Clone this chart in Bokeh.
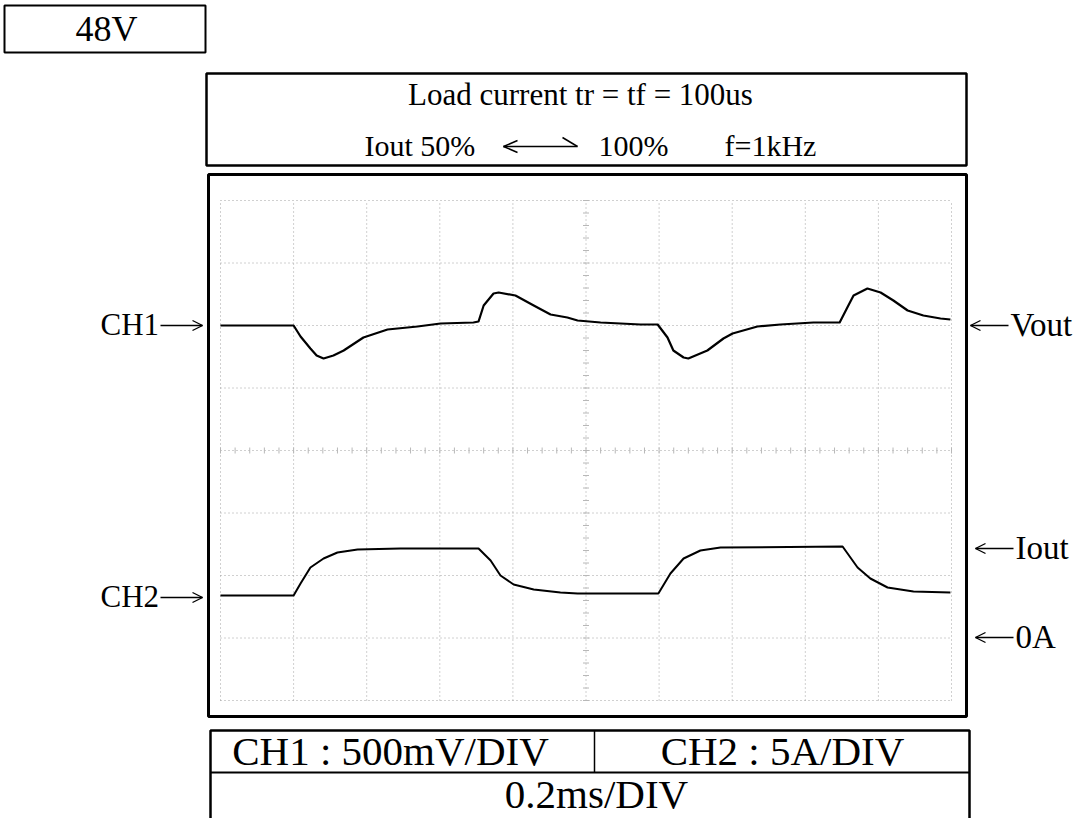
from bokeh.plotting import figure
from bokeh.models import Range1d
from bokeh.embed import file_html
from bokeh.resources import INLINE
from bokeh.core.properties import value

# ---------------- data read from the oscilloscope capture ----------------
# CH1 : Vout deviation (mV) around its reference marker
ch1_time_ms = [0.000, 0.082, 0.200, 0.219, 0.246, 0.263, 0.282, 0.309, 0.337, 0.391,
               0.457, 0.539, 0.602, 0.692, 0.706, 0.720, 0.747, 0.761, 0.807, 0.857,
               0.903, 0.949, 0.977, 1.040, 1.149, 1.196, 1.223, 1.239, 1.267, 1.280,
               1.332, 1.376, 1.401, 1.469, 1.532, 1.622, 1.694, 1.715, 1.732, 1.770,
               1.806, 1.841, 1.880, 1.923, 1.970, 1.997]
ch1_vout_mv = [0, 0, 0, -88, -184, -240, -264, -240, -200, -96,
               -32, -8, 16, 24, 32, 160, 256, 264, 240, 160,
               88, 64, 40, 24, 8, 8, -96, -200, -256, -264,
               -200, -104, -64, -8, 8, 24, 24, 144, 240, 296,
               264, 200, 120, 80, 56, 48]

# CH2 : Iout (A)
ch2_time_ms = [0.000, 0.200, 0.219, 0.246, 0.282, 0.320, 0.375, 0.492, 0.706, 0.739,
               0.766, 0.802, 0.857, 0.930, 0.977, 1.198, 1.231, 1.267, 1.313, 1.368,
               1.702, 1.743, 1.778, 1.825, 1.896, 1.997]
ch2_iout_a = [3.40, 3.40, 4.36, 5.64, 6.36, 6.84, 7.08, 7.16, 7.16, 6.20,
              5.00, 4.28, 3.88, 3.64, 3.56, 3.56, 5.16, 6.36, 7.00, 7.24,
              7.32, 5.64, 4.76, 4.04, 3.72, 3.64]

# scope settings
ms_per_div = 0.2
mv_per_div = 500
a_per_div = 5
n_div_x = 10
n_div_y = 8
ch1_ref_div = 6      # CH1 marker sits on graticule line 6 (from bottom)
ch2_zero_div = 1     # 0 A sits on graticule line 1

# texts
supply_label = "48V"
title_line1 = "Load current tr = tf = 100us"
title_parts = ["Iout 50%", "100%", "f=1kHz"]
left_labels = ["CH1", "CH2"]
right_labels = ["Vout", "Iout", "0A"]
table_labels = ["CH1 : 500mV/DIV", "CH2 : 5A/DIV", "0.2ms/DIV"]

# ---------------- layout (page pixels of the capture) ----------------
W, H = 1092, 818
X0, X1, Y0, Y1 = 0, W, 0, H
GL, GR, GT, GB = 220, 951, 200, 700
pdx = (GR - GL) / n_div_x
pdy = (GB - GT) / n_div_y


def t_at(px):
    return (px - GL) / pdx * ms_per_div


def mv_at(py):
    return ((GB - py) / pdy - ch1_ref_div) * mv_per_div


def a_at(py):
    return ((GB - py) / pdy - ch2_zero_div) * a_per_div


p = figure(width=W, height=H, output_backend="svg", toolbar_location=None,
           x_range=Range1d(t_at(X0), t_at(X1)), y_range=Range1d(mv_at(Y1), mv_at(Y0)),
           x_axis_type=None, y_axis_type=None, min_border=0)
p.extra_x_ranges = {"px": Range1d(X0, X1)}
p.extra_y_ranges = {"px": Range1d(Y1, Y0), "amp": Range1d(a_at(Y1), a_at(Y0))}
p.outline_line_color = None
p.grid.visible = False
p.background_fill_color = "white"
p.border_fill_color = "white"

PX = dict(x_range_name="px", y_range_name="px")
FONT = value("Liberation Serif")

# ---------------- graticule ----------------
t_max = n_div_x * ms_per_div
mv_lo = (0 - ch1_ref_div) * mv_per_div
mv_hi = (n_div_y - ch1_ref_div) * mv_per_div
vx = [i * ms_per_div for i in range(n_div_x + 1)]
hy = [mv_lo + j * mv_per_div for j in range(n_div_y + 1)]
grid_style = dict(line_color="#a0a0a0", line_width=1, line_dash="1 3")
p.segment(x0=vx, y0=[mv_lo] * len(vx), x1=vx, y1=[mv_hi] * len(vx), **grid_style)
p.segment(x0=[0] * len(hy), y0=hy, x1=[t_max] * len(hy), y1=hy, **grid_style)

# minor ticks on centre lines
t_c = t_max / 2
mv_c = (n_div_y / 2 - ch1_ref_div) * mv_per_div
tick_v = [mv_lo + k * mv_per_div / 5 for k in range(n_div_y * 5 + 1)]
tick_t = [k * ms_per_div / 5 for k in range(n_div_x * 5 + 1)]
dt = 3 / pdx * ms_per_div
dmv = 3 / pdy * mv_per_div
p.segment(x0=[t_c - dt] * len(tick_v), y0=tick_v, x1=[t_c + dt] * len(tick_v), y1=tick_v,
          line_color="#b8b8b8", line_width=1)
p.segment(x0=tick_t, y0=[mv_c - dmv] * len(tick_t), x1=tick_t, y1=[mv_c + dmv] * len(tick_t),
          line_color="#b8b8b8", line_width=1)

# ---------------- traces ----------------
p.line(ch1_time_ms, ch1_vout_mv, line_color="black", line_width=2.2, line_join="round")
p.line(ch2_time_ms, ch2_iout_a, line_color="black", line_width=2.0, line_join="round",
       y_range_name="amp")

# ---------------- frames ----------------
box = dict(fill_color=None, line_color="black", **PX)
p.quad(left=[4], right=[205], top=[5], bottom=[52], line_width=2, **box)
p.quad(left=[206], right=[966], top=[73], bottom=[165], line_width=2.5, **box)
p.quad(left=[208], right=[966], top=[174], bottom=[716], line_width=3, **box)
p.quad(left=[210], right=[969], top=[730], bottom=[840], line_width=2.5, **box)
p.segment(x0=[210], y0=[772], x1=[969], y1=[772], line_color="black", line_width=2, **PX)
p.segment(x0=[594], y0=[730], x1=[594], y1=[772], line_color="black", line_width=1.5, **PX)

# ---------------- texts ----------------
K_BASE = 0.36  # empirical shift of the svg text baseline, in em


def txt(x, base_y, s, size, align="left"):
    p.text(x=[x], y=[base_y - K_BASE * size], text=[s], text_font=FONT,
           text_font_size=f"{size}px", text_align=align, text_baseline="alphabetic",
           text_color="black", **PX)


txt(106, 41, supply_label, 36, "center")
txt(580, 105, title_line1, 31, "center")
txt(364, 156, title_parts[0], 30)
txt(598, 156, title_parts[1], 30)
txt(724, 156, title_parts[2], 30)

# double-headed arrow in the title
p.segment(x0=[503], y0=[146], x1=[577], y1=[146], line_color="black", line_width=1.5, **PX)
p.segment(x0=[503, 503], y0=[146, 146], x1=[517, 517], y1=[140, 152], line_color="black",
          line_width=1.5, **PX)
p.segment(x0=[577], y0=[146], x1=[562], y1=[137], line_color="black", line_width=1.5, **PX)

# channel markers (left)
txt(100, 335, left_labels[0], 31)
txt(100, 607, left_labels[1], 31)
for yy in (325, 597):
    p.segment(x0=[160], y0=[yy], x1=[202], y1=[yy], line_color="black", line_width=1.3, **PX)
    p.segment(x0=[202, 202], y0=[yy, yy], x1=[192, 192], y1=[yy - 5, yy + 5],
              line_color="black", line_width=1.3, **PX)

# markers (right)
for (xa, yy, s) in [(970, 325, right_labels[0]), (975, 548, right_labels[1]),
                    (975, 637, right_labels[2])]:
    p.segment(x0=[xa], y0=[yy], x1=[xa + 38], y1=[yy], line_color="black", line_width=1.3, **PX)
    p.segment(x0=[xa, xa], y0=[yy, yy], x1=[xa + 10, xa + 10], y1=[yy - 5, yy + 5],
              line_color="black", line_width=1.3, **PX)
    txt(xa + 40, yy + 11, s, 33)

# bottom table
txt(390, 765, table_labels[0], 41, "center")
txt(782, 765, table_labels[1], 41, "center")
txt(596, 808, table_labels[2], 41, "center")

open("out.html", "w").write(file_html(p, INLINE))
